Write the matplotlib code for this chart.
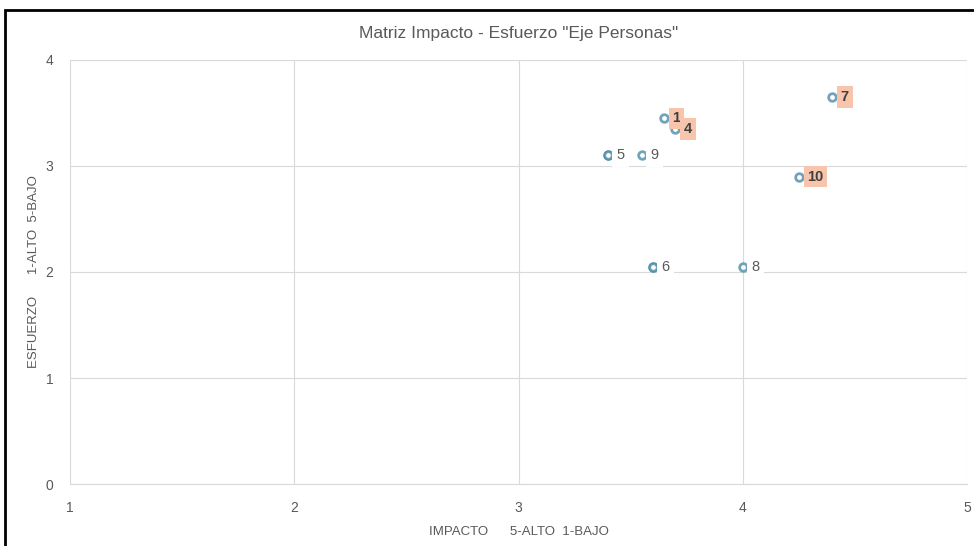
import matplotlib.pyplot as plt
from matplotlib.patches import Rectangle

plt.rcParams['font.family'] = ['Liberation Sans Narrow', 'Liberation Sans', 'DejaVu Sans']

# impacto (x), esfuerzo (y), etiqueta
ids = ['1', '2', '3', '4', '5', '6', '7', '8', '9', '10']
impacto = [3.65, 3.4, 3.6, 3.7, 3.4, 3.6, 4.4, 4.0, 3.55, 4.25]
esfuerzo = [3.45, 3.1, 2.05, 3.35, 3.1, 2.05, 3.65, 2.05, 3.1, 2.9]
destacados = ['1', '4', '7', '10']
ocultos = ['2', '3']

gris = '#595959'
fig = plt.figure(figsize=(9.74, 5.46), dpi=100)
ax = fig.add_axes([70 / 974, 1 - 484 / 546, 897 / 974, 424 / 546])

ax.scatter(impacto, esfuerzo, s=30, facecolors='white', edgecolors='#4E8CA8',
           linewidths=2, alpha=0.8, zorder=3)

for i, x, y in zip(ids, impacto, esfuerzo):
    if i in ocultos:
        continue
    if i in destacados:
        ax.annotate(i, (x, y), xytext=(6, 0), textcoords='offset points',
                    va='center', ha='left', fontsize=10.5, fontweight='bold', color='#404040',
                    bbox=dict(boxstyle='square,pad=0.25', fc='#F8C5AC', ec='none'), zorder=4)
    else:
        ax.annotate(i, (x, y), xytext=(6, 0), textcoords='offset points',
                    va='center', ha='left', fontsize=10.5, color=gris,
                    bbox=dict(boxstyle='square,pad=0.3', fc='white', ec='none'), zorder=4)

ax.set_xlim(1, 5)
ax.set_ylim(0, 4)
ax.set_xticks([1, 2, 3, 4, 5])
ax.set_yticks([0, 1, 2, 3, 4])
ax.grid(True, color='#D9D9D9', linewidth=0.8)
ax.set_axisbelow(True)
for s in ['top', 'right', 'left']:
    ax.spines[s].set_visible(False)
ax.spines['bottom'].set_color('#D9D9D9')
ax.tick_params(length=0, labelsize=10, labelcolor=gris, pad=12)

ax.set_title('Matriz Impacto - Esfuerzo "Eje Personas"', fontsize=12.5, color=gris, pad=16)
ax.set_xlabel('IMPACTO      5-ALTO  1-BAJO', fontsize=9.5, color=gris, labelpad=8)
ax.set_ylabel('ESFUERZO      1-ALTO  5-BAJO', fontsize=9.5, color=gris, labelpad=4)

fig.patches.append(Rectangle((5 / 974, -0.1), 1.2, 1 - 10 / 546 + 0.1,
                             transform=fig.transFigure, fill=False,
                             edgecolor='black', linewidth=2))

fig.savefig('out.png', dpi=100)
